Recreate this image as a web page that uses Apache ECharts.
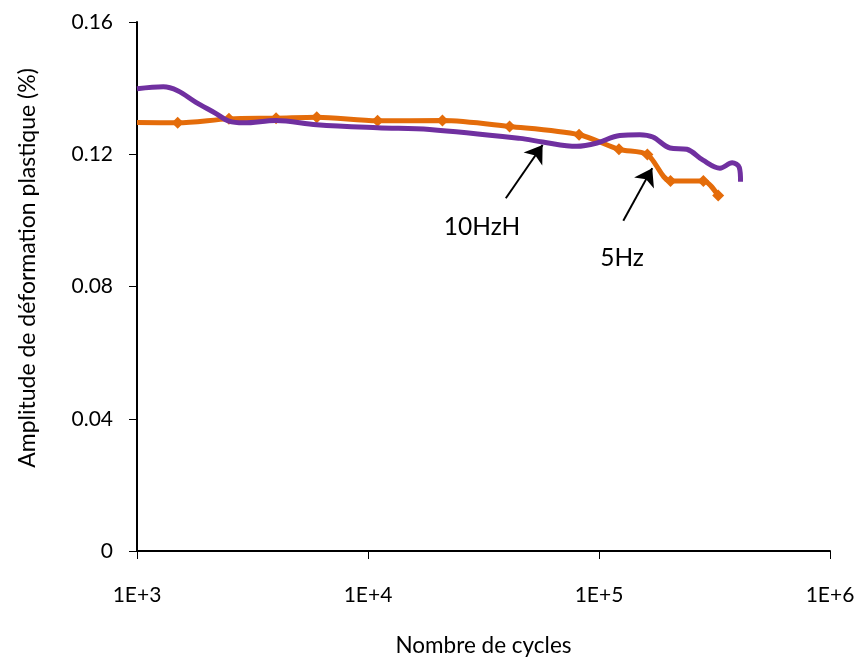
<!DOCTYPE html>
<html>
<head>
<meta charset="utf-8">
<script src="https://cdn.jsdelivr.net/npm/echarts@6/dist/echarts.min.js"></script>
<style>html,body{margin:0;padding:0;background:#fff}#c{width:860px;height:662px}</style>
</head>
<body>
<div id="c"></div>
<script>
// 5Hz series (orange, diamond markers)
const cycles5Hz = [1000, 1500, 2500, 4000, 6000, 11000, 21000, 41000, 82000, 122000, 162000, 204000, 283000, 328000];
const amp5Hz    = [0.1296, 0.1295, 0.1307, 0.1309, 0.1312, 0.1301, 0.1302, 0.1284, 0.1259, 0.1215, 0.1199, 0.1119, 0.1119, 0.1075];
// 10HzH series (purple, smooth, no markers)
const cycles10Hz = [1000, 1300, 1500, 1800, 2200, 2500, 2900, 4000, 6000, 11000, 18500, 45500, 57000, 80000, 98000, 123000, 150000, 171000, 203000, 240000, 282000, 334000, 377000, 405000, 410000];
const amp10Hz    = [0.1398, 0.1404, 0.1392, 0.1357, 0.1323, 0.1300, 0.1295, 0.1302, 0.1289, 0.1280, 0.1275, 0.1248, 0.1237, 0.1224, 0.1234, 0.1257, 0.1259, 0.1252, 0.1219, 0.1215, 0.1182, 0.1158, 0.1174, 0.1160, 0.1117];
// axis ticks
const xTickLabels = {1000: '1E+3', 10000: '1E+4', 100000: '1E+5', 1000000: '1E+6'};
const yTicks = [0, 0.04, 0.08, 0.12, 0.16];
// annotations (data coordinates)
const arrow10Hz = [[39500, 0.1067], [57000, 0.1228]];
const arrow5Hz  = [[127400, 0.0999], [170000, 0.1158]];
const label10Hz = {text: '10HzH', at: [31150, 0.0980]};
const label5Hz  = {text: '5Hz', at: [125800, 0.0887]};
const yAxisTitle = 'Amplitude de déformation plastique (%)';

const FONT = 'Lato';
const pair = (xs, ys) => xs.map((x, i) => [x, ys[i]]);

const chart = echarts.init(document.getElementById('c'));
chart.setOption({
  animation: false,
  backgroundColor: '#fff',
  textStyle: {fontFamily: FONT},
  grid: {left: 137, right: 30, top: 22, bottom: 108, containLabel: false},
  graphic: [{
    type: 'text', x: 28, y: 268, rotation: Math.PI / 2,
    style: {text: yAxisTitle, fontSize: 23, fontFamily: FONT, fill: '#000',
      align: 'center', verticalAlign: 'middle'}
  }],
  xAxis: {
    type: 'log', logBase: 10, min: 1000, max: 1000000,
    name: 'Nombre de cycles', nameLocation: 'middle', nameGap: 83,
    nameTextStyle: {fontSize: 22.5, color: '#000', fontFamily: FONT},
    axisLine: {show: true, lineStyle: {color: '#000', width: 2}},
    axisTick: {show: true, length: 8, lineStyle: {color: '#000', width: 1}},
    axisLabel: {fontSize: 21, color: '#000', margin: 34, fontFamily: FONT,
      formatter: v => xTickLabels[Math.round(v)] || ''},
    splitLine: {show: false}, minorTick: {show: false}
  },
  yAxis: {
    type: 'value', min: yTicks[0], max: yTicks[yTicks.length - 1], interval: 0.04,
    axisLine: {show: true, lineStyle: {color: '#000', width: 2}},
    axisTick: {show: true, length: 8, lineStyle: {color: '#000', width: 1}},
    axisLabel: {fontSize: 21, color: '#000', margin: 24, fontFamily: FONT,
      formatter: v => String(+v.toFixed(2))},
    splitLine: {show: false}
  },
  series: [
    {
      name: '10HzH', type: 'line', data: pair(cycles10Hz, amp10Hz),
      smooth: 0.35, showSymbol: false, symbol: 'none',
      lineStyle: {color: '#7030A0', width: 5}, z: 3,
      markLine: {
        silent: true, symbol: ['none', 'arrow'], symbolSize: 17,
        lineStyle: {color: '#000', width: 2, type: 'solid'}, label: {show: false},
        data: [[{coord: arrow10Hz[0]}, {coord: arrow10Hz[1]}], [{coord: arrow5Hz[0]}, {coord: arrow5Hz[1]}]]
      },
      markPoint: {
        silent: true, symbol: 'circle', symbolSize: 1, itemStyle: {color: 'rgba(0,0,0,0)'},
        label: {show: true, position: 'inside', color: '#000', fontSize: 24.5, fontFamily: FONT, formatter: p => p.name},
        data: [{name: label10Hz.text, coord: label10Hz.at}, {name: label5Hz.text, coord: label5Hz.at}]
      }
    },
    {
      name: '5Hz', type: 'line',
      data: pair(cycles5Hz, amp5Hz).map((d, i) => i === 0 ? {value: d, symbol: 'none'} : d),
      smooth: 0.3, symbol: 'diamond', symbolSize: 12, showSymbol: true,
      itemStyle: {color: '#E46C0A'},
      lineStyle: {color: '#E46C0A', width: 5}, z: 2
    }
  ]
});
</script>
</body>
</html>
